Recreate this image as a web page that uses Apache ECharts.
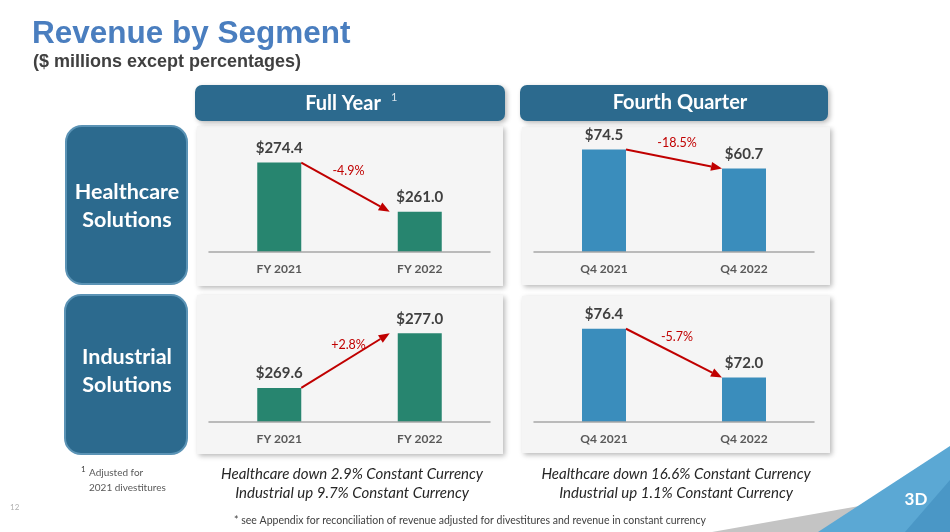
<!DOCTYPE html>
<html lang="en">
<head>
    <meta charset="UTF-8">
    <title>Revenue by Segment</title>
    <script src="https://cdn.jsdelivr.net/npm/echarts@6.0.0/dist/echarts.min.js"></script>
    <style>
        html, body { margin: 0; padding: 0; background: #fff; }
        #chart { width: 950px; height: 532px; }
    </style>
</head>
<body>
    <div id="chart"></div>
    <script>
        // data
        const fyCategories = ['FY 2021', 'FY 2022'];
        const q4Categories = ['Q4 2021', 'Q4 2022'];
        const healthcareFY = [274.4, 261.0];
        const healthcareQ4 = [74.5, 60.7];
        const industrialFY = [269.6, 277.0];
        const industrialQ4 = [76.4, 72.0];
        const changeLabels = ['-4.9%', '-18.5%', '+2.8%', '-5.7%'];
        // truncated value axes as on the slide
        const axisMin = [250, 0, 265, 68];
        const axisMax = [280, 80, 280, 78];

        const FONT = 'Lato, "Open Sans", sans-serif';
        const GREEN = '#27856F';
        const BLUE = '#3A8DBC';
        const RED = '#C00000';
        const NAVY = '#2C6A8E';

        const chart = echarts.init(document.getElementById('chart'));

        const grids = [
            { left: 209, width: 281, top: 142, height: 110 },
            { left: 534, width: 280, top: 142, height: 110 },
            { left: 209, width: 281, top: 311, height: 111 },
            { left: 534, width: 280, top: 311, height: 111 }
        ];
        const cats = [fyCategories, q4Categories, fyCategories, q4Categories];
        const values = [healthcareFY, healthcareQ4, industrialFY, industrialQ4];
        const colors = [GREEN, BLUE, GREEN, BLUE];

        chart.setOption({
            animation: false,
            grid: grids,
            xAxis: grids.map((g, i) => ({
                type: 'category',
                gridIndex: i,
                data: cats[i],
                z: 5,
                axisLine: { lineStyle: { color: '#A6A6A6', width: 1.5 } },
                axisTick: { show: false },
                axisLabel: {
                    margin: 11,
                    color: '#595959',
                    fontFamily: FONT,
                    fontWeight: 'bold',
                    fontSize: 12
                }
            })),
            yAxis: grids.map((g, i) => ({
                type: 'value',
                gridIndex: i,
                min: axisMin[i],
                max: axisMax[i],
                show: false,
                splitLine: { show: false }
            })),
            series: grids.map((g, i) => ({
                type: 'bar',
                xAxisIndex: i,
                yAxisIndex: i,
                data: values[i],
                barWidth: 44,
                itemStyle: { color: colors[i] },
                label: {
                    show: true,
                    position: 'top',
                    distance: 7,
                    formatter: p => '$' + p.value.toFixed(1),
                    color: '#404040',
                    fontFamily: FONT,
                    fontWeight: 'bold',
                    fontSize: 15
                }
            }))
        });

        function txt(text, x, y, size, opts) {
            return {
                type: 'text',
                z: 10,
                style: Object.assign({
                    text: text,
                    x: x,
                    y: y,
                    fontSize: size,
                    fontFamily: FONT,
                    fill: '#404040',
                    textAlign: 'left',
                    textVerticalAlign: 'middle'
                }, opts || {})
            };
        }

        const shadow = { shadowBlur: 5, shadowOffsetX: 2, shadowOffsetY: 2, shadowColor: 'rgba(0,0,0,0.28)' };
        const elements = [];

        // chart panels
        [[197, 126, 306, 160], [522, 127, 308, 158], [197, 295, 306, 159], [522, 296, 308, 157]].forEach(r => {
            elements.push({
                type: 'rect', z: 0,
                shape: { x: r[0], y: r[1], width: r[2], height: r[3] },
                style: Object.assign({ fill: '#F5F5F5' }, shadow)
            });
        });

        // column headers
        [[195, 85, 310, 36], [520, 85, 308, 36]].forEach(r => {
            elements.push({
                type: 'rect', z: 1,
                shape: { x: r[0], y: r[1], width: r[2], height: r[3], r: 7 },
                style: Object.assign({ fill: NAVY }, shadow)
            });
        });
        elements.push(txt('Full Year', 343, 104, 20, { fill: '#fff', fontWeight: 'bold', textAlign: 'center' }));
        elements.push(txt('1', 391, 97, 11, { fill: '#D9E4EC' }));
        elements.push(txt('Fourth Quarter', 680, 103, 20, { fill: '#fff', fontWeight: 'bold', textAlign: 'center' }));

        // segment boxes
        [[66, 126, 121, 158], [65, 295, 122, 159]].forEach(r => {
            elements.push({
                type: 'rect', z: 1,
                shape: { x: r[0], y: r[1], width: r[2], height: r[3], r: 16 },
                style: { fill: NAVY, stroke: '#5B93B5', lineWidth: 2 }
            });
        });
        const boxFont = { fill: '#fff', fontWeight: 'bold', textAlign: 'center' };
        elements.push(txt('Healthcare', 127, 192, 21.5, boxFont));
        elements.push(txt('Solutions', 127, 220, 21.5, boxFont));
        elements.push(txt('Industrial', 127, 357, 21.5, boxFont));
        elements.push(txt('Solutions', 127, 385, 21.5, boxFont));

        // titles
        elements.push(txt('Revenue by Segment', 32, 34, 31.5, {
            fill: '#4A7EBF', fontWeight: 'bold', fontFamily: '"Liberation Sans", Arial, sans-serif'
        }));
        elements.push(txt('($ millions except percentages)', 33, 62, 18, {
            fill: '#404040', fontWeight: 'bold', fontFamily: '"Liberation Sans", Arial, sans-serif'
        }));

        // change arrows, positioned from the bars via the axes
        const arrowGap = [8, 0, 8, 0];
        values.forEach((vals, i) => {
            const p0 = chart.convertToPixel({ gridIndex: i }, [0, vals[0]]);
            const p1 = chart.convertToPixel({ gridIndex: i }, [1, vals[1]]);
            const x0 = p0[0] + 22, y0 = p0[1];
            const x1 = p1[0] - 22 - arrowGap[i], y1 = p1[1];
            const ang = Math.atan2(y1 - y0, x1 - x0);
            const head = 11, half = 4.5;
            const bx = x1 - head * Math.cos(ang), by = y1 - head * Math.sin(ang);
            elements.push({
                type: 'line', z: 6,
                shape: { x1: x0, y1: y0, x2: bx, y2: by },
                style: { stroke: RED, lineWidth: 2 }
            });
            elements.push({
                type: 'polygon', z: 6,
                shape: {
                    points: [
                        [x1, y1],
                        [bx + half * Math.sin(ang), by - half * Math.cos(ang)],
                        [bx - half * Math.sin(ang), by + half * Math.cos(ang)]
                    ]
                },
                style: { fill: RED }
            });
            elements.push(txt(changeLabels[i], (x0 + x1) / 2 + 3, (y0 + y1) / 2 - 16, 12.5,
                { fill: RED, textAlign: 'center' }));
        });

        // footnotes
        elements.push(txt('1', 81, 469, 8, { fill: '#404040' }));
        elements.push(txt('Adjusted for', 89, 473, 10, { fill: '#595959' }));
        elements.push(txt('2021 divestitures', 89, 488, 10, { fill: '#595959' }));
        elements.push(txt('12', 10, 507, 8, { fill: '#B0B0B0' }));

        const italic = { fill: '#262626', fontStyle: 'italic', textAlign: 'center' };
        elements.push(txt('Healthcare down 2.9% Constant Currency', 352, 474, 15, italic));
        elements.push(txt('Industrial up 9.7% Constant Currency', 352, 493, 15, italic));
        elements.push(txt('Healthcare down 16.6% Constant Currency', 676, 474, 15, italic));
        elements.push(txt('Industrial up 1.1% Constant Currency', 676, 493, 15, italic));
        elements.push(txt('* see Appendix for reconciliation of revenue adjusted for divestitures and revenue in constant currency',
            470, 521, 10.5, { fill: '#404040', textAlign: 'center' }));

        // corner decoration
        elements.push({
            type: 'polygon', z: 1,
            shape: { points: [[712, 532], [865, 505], [840, 532]] },
            style: { fill: '#C4C4C4' }
        });
        elements.push({
            type: 'polygon', z: 2,
            shape: { points: [[818, 532], [950, 446], [950, 532]] },
            style: { fill: '#5BA8D4' }
        });
        elements.push({
            type: 'polygon', z: 2,
            shape: { points: [[905, 532], [950, 480], [950, 532]] },
            style: { fill: '#4A97C6' }
        });
        elements.push(txt('3D', 916, 500, 17, { fill: '#fff', fontWeight: 'bold', textAlign: 'center' }));

        chart.setOption({ graphic: { elements: elements } });
    </script>
</body>
</html>
